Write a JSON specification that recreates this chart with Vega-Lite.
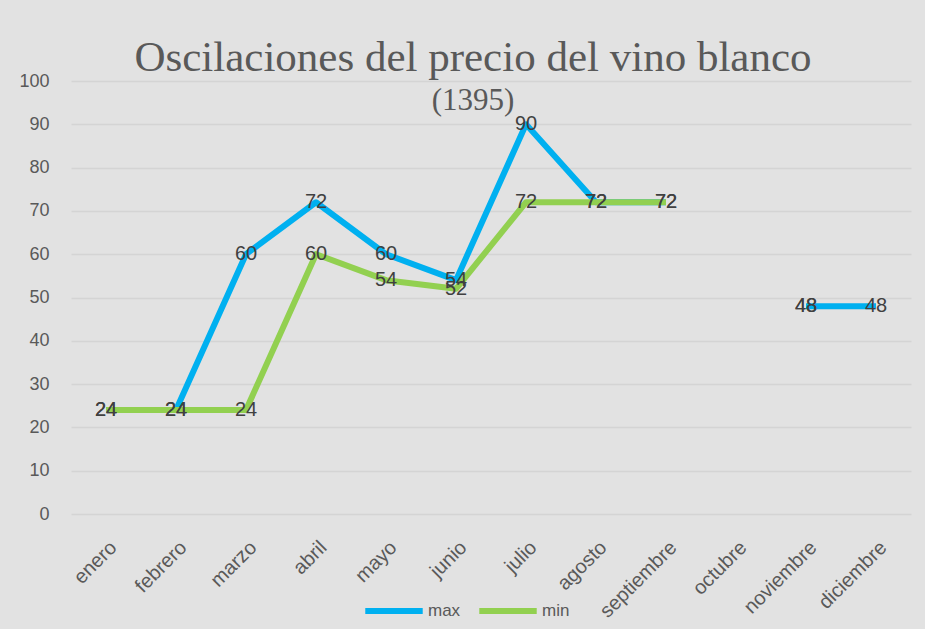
{
  "$schema": "https://vega.github.io/schema/vega-lite/v6.json",
  "width": 840,
  "height": 433,
  "autosize": {"type": "none"},
  "padding": {"left": 71, "top": 81, "right": 14, "bottom": 115},
  "background": "#e2e2e2",
  "title": {
    "text": "Oscilaciones del precio del vino blanco",
    "subtitle": "(1395)",
    "font": "Liberation Serif",
    "fontSize": 43,
    "fontWeight": "normal",
    "color": "#595959",
    "subtitleFont": "Liberation Serif",
    "subtitleFontSize": 31,
    "subtitleColor": "#595959",
    "subtitlePadding": 6,
    "anchor": "middle",
    "frame": "group",
    "offset": -44,
    "dx": -18
  },
  "config": {
    "view": {"stroke": null},
    "font": "Liberation Sans"
  },
  "data": {
    "values": [
      {"mes": "enero", "serie": "max", "valor": 24},
      {"mes": "febrero", "serie": "max", "valor": 24},
      {"mes": "marzo", "serie": "max", "valor": 60},
      {"mes": "abril", "serie": "max", "valor": 72},
      {"mes": "mayo", "serie": "max", "valor": 60},
      {"mes": "junio", "serie": "max", "valor": 54},
      {"mes": "julio", "serie": "max", "valor": 90},
      {"mes": "agosto", "serie": "max", "valor": 72},
      {"mes": "septiembre", "serie": "max", "valor": 72},
      {"mes": "octubre", "serie": "max", "valor": null},
      {"mes": "noviembre", "serie": "max", "valor": 48},
      {"mes": "diciembre", "serie": "max", "valor": 48},
      {"mes": "enero", "serie": "min", "valor": 24},
      {"mes": "febrero", "serie": "min", "valor": 24},
      {"mes": "marzo", "serie": "min", "valor": 24},
      {"mes": "abril", "serie": "min", "valor": 60},
      {"mes": "mayo", "serie": "min", "valor": 54},
      {"mes": "junio", "serie": "min", "valor": 52},
      {"mes": "julio", "serie": "min", "valor": 72},
      {"mes": "agosto", "serie": "min", "valor": 72},
      {"mes": "septiembre", "serie": "min", "valor": 72},
      {"mes": "octubre", "serie": "min", "valor": null},
      {"mes": "noviembre", "serie": "min", "valor": 48},
      {"mes": "diciembre", "serie": "min", "valor": null}
    ]
  },
  "encoding": {
    "x": {
      "field": "mes",
      "type": "nominal",
      "sort": ["enero","febrero","marzo","abril","mayo","junio","julio","agosto","septiembre","octubre","noviembre","diciembre"],
      "scale": {"domain": ["enero","febrero","marzo","abril","mayo","junio","julio","agosto","septiembre","octubre","noviembre","diciembre"]},
      "axis": {
        "title": null,
        "labelAngle": -45,
        "labelFontSize": 20,
        "labelColor": "#595959",
        "ticks": false,
        "domain": false,
        "grid": false,
        "labelPadding": 23
      }
    },
    "y": {
      "field": "valor",
      "type": "quantitative",
      "scale": {"domain": [0, 100], "nice": false},
      "axis": {
        "title": null,
        "values": [0,10,20,30,40,50,60,70,80,90,100],
        "grid": true,
        "gridColor": "#d4d4d4",
        "gridWidth": 1.5,
        "domain": false,
        "ticks": false,
        "labelPadding": 22,
        "labelFontSize": 18,
        "labelColor": "#595959"
      }
    }
  },
  "layer": [
    {
      "mark": {"type": "line", "strokeWidth": 6, "strokeJoin": "round", "invalid": "break-paths-show-domains"},
      "encoding": {
        "color": {
          "field": "serie",
          "type": "nominal",
          "scale": {"domain": ["max", "min"], "range": ["#00B0F0", "#92D050"]},
          "legend": {
            "title": null,
            "orient": "none",
            "legendX": 291,
            "legendY": 498,
            "direction": "horizontal",
            "symbolType": "stroke",
            "symbolStrokeWidth": 6,
            "symbolSize": 3300,
            "labelFontSize": 17,
            "labelColor": "#595959",
            "labelOffset": 2,
            "columnPadding": 6
          }
        }
      }
    },
    {
      "transform": [{"filter": "datum.valor != null"}],
      "mark": {"type": "text", "fontSize": 20, "color": "#404040", "align": "center", "baseline": "middle"},
      "encoding": {
        "text": {"field": "valor", "type": "quantitative"}
      }
    }
  ]
}
